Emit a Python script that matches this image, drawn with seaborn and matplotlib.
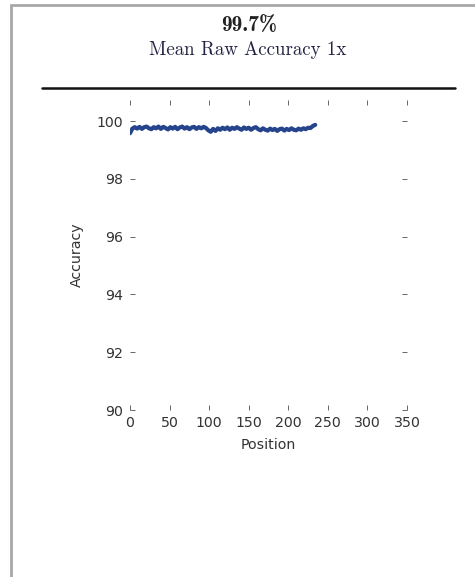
import matplotlib
matplotlib.use("Agg")
import matplotlib.pyplot as plt
from matplotlib.lines import Line2D
from matplotlib.patches import Rectangle
import seaborn as sns
import pandas as pd

# Per-position raw accuracy (sampled every 3 positions)
positions = list(range(0, 237, 3))
accuracy = [
    99.58, 99.74, 99.79, 99.74, 99.80, 99.73, 99.79, 99.81, 99.75, 99.72,
    99.79, 99.75, 99.81, 99.73, 99.80, 99.76, 99.71, 99.79, 99.74, 99.80,
    99.72, 99.78, 99.81, 99.74, 99.79, 99.72, 99.78, 99.80, 99.73, 99.79,
    99.75, 99.80, 99.76, 99.68, 99.63, 99.73, 99.66, 99.75, 99.70, 99.77,
    99.72, 99.78, 99.70, 99.77, 99.73, 99.79, 99.74, 99.70, 99.78, 99.73,
    99.77, 99.70, 99.76, 99.79, 99.72, 99.68, 99.75, 99.70, 99.67, 99.74,
    99.69, 99.73, 99.66, 99.72, 99.74, 99.67, 99.73, 99.69, 99.75, 99.70,
    99.68, 99.74, 99.70, 99.75, 99.72, 99.77, 99.76, 99.83, 99.87,
]

title_text = "99.7%"
subtitle_text = "Mean Raw Accuracy 1x"
x_ticks = [0, 50, 100, 150, 200, 250, 300, 350]
y_ticks = [90, 92, 94, 96, 98, 100]

df = pd.DataFrame({"Position": positions, "Accuracy": accuracy})

sns.set_style("white")
plt.rcParams.update({
    "font.family": ["DejaVu Sans"],
    "xtick.direction": "in",
    "ytick.direction": "in",
    "xtick.top": True,
    "ytick.right": True,
})

fig = plt.figure(figsize=(4.75, 5.77), dpi=100)
ax = fig.add_axes([130 / 475, 1 - 410 / 577, 277 / 475, 310 / 577])

sns.lineplot(data=df, x="Position", y="Accuracy", ax=ax,
             color="#26448c", linewidth=3.0)

ax.set_xlim(0, 350)
ax.set_ylim(90, 100.73)
ax.set_xticks(x_ticks)
ax.set_yticks(y_ticks)
ax.tick_params(axis="both", which="both", length=3.5, width=0.7, color="#666666",
               labelsize=10.2, labelcolor="#333333", pad=4,
               top=True, right=True, bottom=True, left=True)
ax.tick_params(axis="y", pad=5)
for s in ax.spines.values():
    s.set_visible(False)
ax.set_xlabel("Position", fontsize=10.2, color="#333333")
ax.set_ylabel("Accuracy", fontsize=10.2, color="#333333")
ax.xaxis.set_label_coords(0.5, -0.09)
ax.yaxis.set_label_coords(-0.165, 0.5)

# Heading above the plot
fig.text(249 / 475, 1 - 26 / 577, title_text, ha="center", va="center",
         fontsize=15.5, family="cmb10", color="#222222")
fig.text(248 / 475, 1 - 50 / 577, subtitle_text, ha="center", va="center",
         fontsize=13.6, family="cmr10", color="#222244")

# Rule under the heading
fig.add_artist(Line2D([42 / 475, 455 / 475], [1 - 88 / 577, 1 - 88 / 577],
                      color="#111111", linewidth=1.8))

# Panel frame
fig.add_artist(Rectangle((11 / 475, -0.02), 1.05, 1.02 - 5 / 577,
                         transform=fig.transFigure, fill=False,
                         edgecolor="#a8a8a8", linewidth=2.0, clip_on=False))

fig.savefig("out.png", dpi=100)
